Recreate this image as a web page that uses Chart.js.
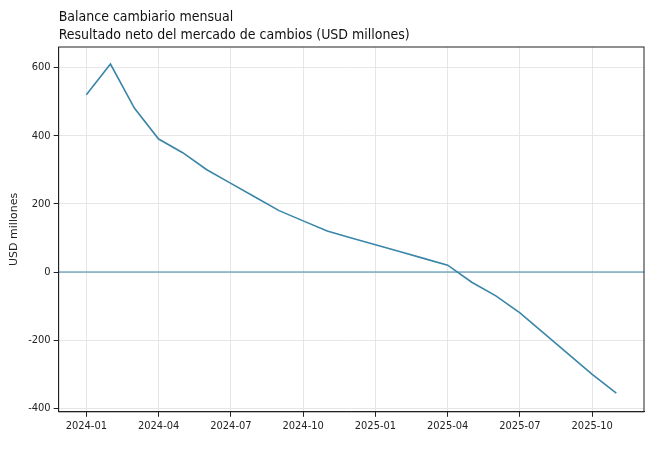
<!DOCTYPE html>
<html><head><meta charset="utf-8">
<script src="https://cdn.jsdelivr.net/npm/chart.js@4/dist/chart.umd.min.js"></script>
<style>body{margin:0;background:#fff}#wrap{width:650px;height:450px}</style>
</head><body><div id="wrap"><canvas id="c"></canvas></div>
<script>
// Monthly net FX market balance, USD millions
const months = ['2024-01','2024-02','2024-03','2024-04','2024-05','2024-06','2024-07','2024-08','2024-09','2024-10','2024-11','2024-12',
  '2025-01','2025-02','2025-03','2025-04','2025-05','2025-06','2025-07','2025-08','2025-09','2025-10','2025-11'];
const balance = [520,610,480,390,350,300,260,220,180,150,120,100,80,60,40,20,-30,-70,-120,-180,-240,-300,-355];
const yTicks = [-400,-200,0,200,400,600];
const xTickIdx = [0,3,6,9,12,15,18,21];
const titleLines = ['Balance cambiario mensual','Resultado neto del mercado de cambios (USD millones)'];
const FONT = "'DejaVu Sans Condensed','DejaVu Sans'";

const pts = balance.map((v,i)=>({x:i,y:v}));
const zeroLine = [{x:-2,y:0},{x:24,y:0}];

new Chart(document.getElementById('c'), {
  type:'line',
  data:{datasets:[
    {data:pts, borderColor:'#3a86a8', borderWidth:1.6, pointRadius:0, tension:0},
    {data:zeroLine, borderColor:'#3a86a8', borderWidth:1.2, pointRadius:0}
  ]},
  options:{
    responsive:true, maintainAspectRatio:false, animation:false,
    layout:{padding:{top:47,right:6,bottom:14,left:4}},
    plugins:{legend:{display:false}, title:{display:false}},
    scales:{
      x:{type:'linear', min:-1.15, max:23.15,
        afterBuildTicks:a=>{a.ticks=xTickIdx.map(v=>({value:v}));},
        ticks:{callback:v=>months[v]||'', color:'#222', font:{family:FONT,size:11}, maxRotation:0},
        grid:{color:'#e6e6e6', tickColor:'#222', tickLength:5}, border:{color:'#222'}},
      y:{min:-410, max:660,
        afterBuildTicks:a=>{a.ticks=yTicks.map(v=>({value:v}));},
        ticks:{color:'#222', font:{family:FONT,size:11}},
        title:{display:true, text:'USD millones', color:'#222', font:{family:"'DejaVu Sans'",size:11}},
        grid:{color:'#e6e6e6', tickColor:'#222', tickLength:5}, border:{color:'#222'}}
    }
  },
  plugins:[{id:'frame',afterDraw(ch){const a=ch.chartArea,c=ch.ctx;c.save();c.strokeStyle='#222';c.lineWidth=1;c.strokeRect(a.left,a.top,a.right-a.left,a.bottom-a.top);
    c.fillStyle='#111';c.font="14px "+FONT;c.textBaseline='alphabetic';
    titleLines.forEach((t,i)=>c.fillText(t,a.left,21+i*18));c.restore();}}]
});
</script></body></html>
